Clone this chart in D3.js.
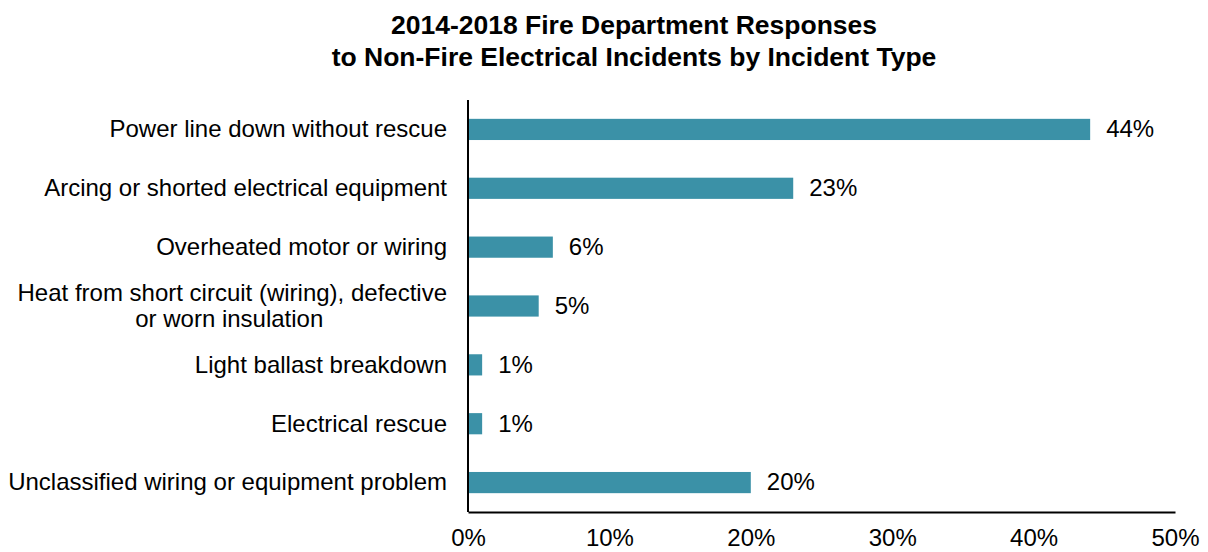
<!DOCTYPE html>
<html>
<head>
<meta charset="utf-8">
<script src="https://cdn.jsdelivr.net/npm/d3@7"></script>
<style>
  body { margin: 0; background: #fff; }
  text { font-family: "Liberation Sans", Arial, sans-serif; fill: #000; }
</style>
</head>
<body>
<div id="chart"></div>
<script>
var svgWidth = 1208;
var svgHeight = 552;

// chart data
var categories = [
    ['Power line down without rescue'],
    ['Arcing or shorted electrical equipment'],
    ['Overheated motor or wiring'],
    ['Heat from short circuit (wiring), defective', 'or worn insulation'],
    ['Light ballast breakdown'],
    ['Electrical rescue'],
    ['Unclassified wiring or equipment problem']
];
var shares = [44, 23, 6, 5, 1, 1, 20];
var tickValues = [0, 10, 20, 30, 40, 50];
var titleLines = ['2014-2018 Fire Department Responses', 'to Non-Fire Electrical Incidents by Incident Type'];

var margin = { top: 100, right: 33, bottom: 40, left: 468 };
var plotBottom = 512;

var svg = d3.select('#chart').append('svg')
    .attr('width', svgWidth)
    .attr('height', svgHeight);

// title
svg.append('g').selectAll('text')
    .data(titleLines)
    .enter()
    .append('text')
    .attr('x', 634)
    .attr('y', (d, i) => 34 + i * 32)
    .attr('text-anchor', 'middle')
    .attr('font-size', '26.5px')
    .attr('font-weight', 'bold')
    .text(d => d);

var xScale = d3.scaleLinear()
    .domain([0, 50])
    .range([margin.left, svgWidth - margin.right]);

var yScale = d3.scaleBand()
    .domain(d3.range(categories.length))
    .range([margin.top, plotBottom])
    .paddingInner(0.64)
    .paddingOuter(0.32);

// bars
svg.append('g').selectAll('rect')
    .data(shares)
    .enter()
    .append('rect')
    .attr('x', xScale(0))
    .attr('y', (d, i) => yScale(i))
    .attr('width', d => xScale(d) - xScale(0))
    .attr('height', yScale.bandwidth())
    .attr('fill', '#3b91a7');

// value labels
svg.append('g').selectAll('text')
    .data(shares)
    .enter()
    .append('text')
    .attr('x', d => xScale(d) + 16)
    .attr('y', (d, i) => yScale(i) + yScale.bandwidth() / 2)
    .attr('dy', '0.33em')
    .attr('font-size', '24px')
    .text(d => d + '%');

// category labels (multi-line ones centred on their first line)
var labelGroup = svg.append('g');
categories.forEach(function(lines, i) {
    var cy = yScale(i) + yScale.bandwidth() / 2;
    var g = labelGroup.append('g');
    var first = g.append('text')
        .attr('x', margin.left - 21)
        .attr('y', cy - (lines.length - 1) * 13)
        .attr('dy', '0.33em')
        .attr('text-anchor', 'end')
        .attr('font-size', '24px')
        .text(lines[0]);
    if (lines.length > 1) {
        var w = first.node().getComputedTextLength();
        var mid = margin.left - 21 - w / 2 - 3;
        for (var k = 1; k < lines.length; k++) {
            g.append('text')
                .attr('x', mid)
                .attr('y', cy - (lines.length - 1) * 13 + k * 26)
                .attr('dy', '0.33em')
                .attr('text-anchor', 'middle')
                .attr('font-size', '24px')
                .text(lines[k]);
        }
    }
});

// axes
var bottomAxis = d3.axisBottom(xScale)
    .tickValues(tickValues)
    .tickSize(0)
    .tickPadding(17)
    .tickFormat(d => d + '%');

var xAxis = svg.append('g')
    .attr('transform', `translate(0, ${plotBottom})`)
    .call(bottomAxis);
xAxis.select('.domain').attr('stroke', '#000').attr('stroke-width', 2);
xAxis.selectAll('text').attr('font-size', '24px').attr('font-family', '"Liberation Sans", Arial, sans-serif');

svg.append('line')
    .attr('x1', margin.left)
    .attr('x2', margin.left)
    .attr('y1', margin.top)
    .attr('y2', plotBottom)
    .attr('stroke', '#000')
    .attr('stroke-width', 2);
</script>
</body>
</html>
